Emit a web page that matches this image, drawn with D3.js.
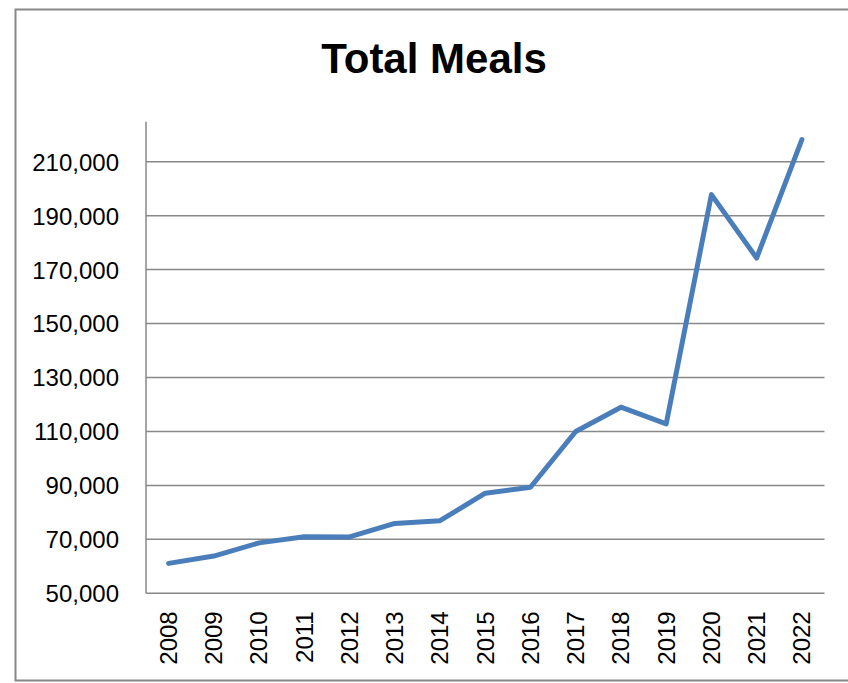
<html>
<head>
<script src="https://d3js.org/d3.v7.min.js"></script>
<style>
body { margin: 0; background: #fff; }
text { font-family: 'Liberation Sans', Arial, sans-serif; fill: #000; }
</style>
</head>
<body>
<div id="plot"></div>
<script>

var width = 848;
var height = 683;

// data
var years = ["2008","2009","2010","2011","2012","2013","2014","2015","2016","2017","2018","2019","2020","2021","2022"];
var meals = [61100, 63800, 68700, 71000, 70900, 75900, 76900, 87100, 89300, 110000, 119000, 112800, 197800, 174300, 218200];
var yTicks = [50000, 70000, 90000, 110000, 130000, 150000, 170000, 190000, 210000];

var points = years.map(function (y, i) { return { year: y, value: meals[i] }; });

var svg = d3.select("#plot").append("svg")
.attr("width", width).attr("height", height);

// outer chart border (right side falls outside the picture)
svg.append("path")
.attr("d", "M848,9.5 H15.5 V680.5 H848")
.style("fill", "none").style("stroke", "#888").style("stroke-width", 2);

svg.append("text")
.attr("x", 434).attr("y", 73)
.attr("text-anchor", "middle")
.style("font-size", "42px").style("font-weight", "bold")
.text("Total Meals");

var plot = { left: 146, right: 824.5, top: 121.7, bottom: 593.3 };

var xScale = d3.scaleBand().domain(years).range([plot.left, plot.right]);
var yScale = d3.scaleLinear().domain([50000, 224830]).range([plot.bottom, plot.top]);

var fmt = d3.format(",");

// gridlines
svg.append("g").selectAll("line").data(yTicks.slice(1)).enter()
.append("line")
.attr("x1", plot.left).attr("x2", plot.right)
.attr("y1", function (d) { return yScale(d); })
.attr("y2", function (d) { return yScale(d); })
.style("stroke", "#888").style("stroke-width", 1.5);

// y axis
var yAxis = d3.axisLeft(yScale).tickValues(yTicks).tickSize(0).tickPadding(27).tickFormat(fmt);
var yG = svg.append("g").attr("transform", "translate(" + plot.left + ",0)").call(yAxis);
yG.select(".domain").remove();
yG.selectAll("text").style("font-size", "24px").style("font-family", "'Liberation Sans', Arial, sans-serif").attr("dy", "0.35em");

svg.append("line")
.attr("x1", plot.left).attr("x2", plot.left)
.attr("y1", plot.top).attr("y2", plot.bottom)
.style("stroke", "#888").style("stroke-width", 1.5);

// x axis
var xAxis = d3.axisBottom(xScale).tickSize(0).tickPadding(0);
var xG = svg.append("g").attr("transform", "translate(0," + plot.bottom + ")").call(xAxis);
xG.select(".domain").remove();
xG.selectAll("text")
.style("font-size", "24px").style("font-family", "'Liberation Sans', Arial, sans-serif")
.attr("text-anchor", "end")
.attr("transform", "rotate(-90)")
.attr("x", -18).attr("y", 0).attr("dy", "0.35em");

svg.append("line")
.attr("x1", plot.left).attr("x2", plot.right)
.attr("y1", plot.bottom).attr("y2", plot.bottom)
.style("stroke", "#888").style("stroke-width", 1.5);

// the series line
var line = d3.line()
.x(function (d) { return xScale(d.year) + xScale.bandwidth() / 2; })
.y(function (d) { return yScale(d.value); });

svg.append("path")
.datum(points)
.attr("d", line)
.style("fill", "none")
.style("stroke", "#4a7ebb")
.style("stroke-width", 5)
.style("stroke-linejoin", "round")
.style("stroke-linecap", "round");

</script>
</body>
</html>
